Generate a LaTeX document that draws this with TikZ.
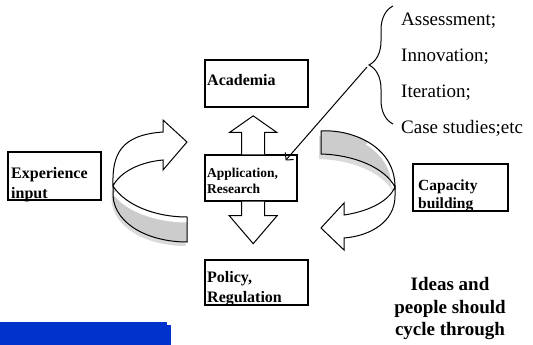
\documentclass[tikz,border=0pt]{standalone}
\usepackage{fontspec}
\setmainfont{Liberation Serif}
\usetikzlibrary{positioning, arrows.meta, calc, decorations.pathreplacing}

\definecolor{bandgray}{RGB}{204,204,204}
\definecolor{shadowgray}{RGB}{218,218,218}
\definecolor{barblue}{RGB}{0,51,204}

\begin{document}
\begin{tikzpicture}[
    x=1pt, y=-1pt,
    box/.style={rectangle, draw, line width=1.3pt, inner sep=0pt},
    boxtext/.style={anchor=west, align=left, inner sep=0pt, font=\fontsize{16}{20}\selectfont\bfseries},
    blockarrow/.style={draw, fill=white, line width=1pt, line join=miter},
    cyclearrow/.style={draw, fill=white, line width=1pt, line join=miter},
    arrow/.style={line width=1pt, -{Straight Barb[length=5pt, width=11pt]}}
  ]
  \useasboundingbox (0,0) rectangle (533,345);

  % Boxes
  \node[box, minimum width=103pt, minimum height=47pt] (acad) at (256.5,83.5) {};
  \node[box, minimum width=92pt, minimum height=46pt] (app) at (251,178) {};
  \node[box, minimum width=103pt, minimum height=45pt] (pol) at (256.5,282.5) {};
  \node[box, minimum width=93pt, minimum height=48pt] (exp) at (54.5,176) {};
  \node[box, minimum width=95pt, minimum height=47pt] (cap) at (460.5,187.5) {};

  % Box texts
  \node[boxtext] (acadtxt) at (207,80) {Academia};
  \node[boxtext, font=\fontsize{13.5}{16}\selectfont\bfseries] (apptxt) at (207,180.5) {Application,\\Research};
  \node[boxtext] (poltxt) at (207,288.5) {Policy,\\Regulation};
  \node[boxtext] (exptxt) at (11,184.5) {Experience\\input};
  \node[boxtext, font=\fontsize{15.5}{18}\selectfont\bfseries] (captxt) at (418,195.5) {Capacity\\building};

  % List and note
  \node[anchor=north west, align=left, inner sep=0pt, font=\fontsize{19}{36}\selectfont] (items) at (401,13) {Assessment;\\Innovation;\\Iteration;\\Case studies;etc};
  \node[align=center, inner sep=0pt, font=\fontsize{19}{22.5}\selectfont\bfseries] (ideas) at (450,309) {Ideas and\\people should\\cycle through};

  % Brace and pointer
  \draw[line width=1pt, decorate, decoration={brace, amplitude=24pt}] (393,124) -- (393,6);
  \coordinate (bracetip) at (367,67);
  \draw[arrow] (bracetip) -- ($(app.north east)+(-12,6)$);

  % Up and down block arrows
  \draw[blockarrow] ($(app.north)+(-9.3,0)$) -- ++(0,-22) -- ++(-12,0) -- ++(23.5,-16.5) -- ++(23.5,16.5) -- ++(-12,0) -- ++(0,22);
  \draw[blockarrow] ($(app.south)+(-9.3,0)$) -- ++(0,14) -- ++(-12.5,0) -- ++(24,28) -- ++(24,-28) -- ++(-12.5,0) -- ++(0,-14);

  % Left cycle arrow
  \fill[shadowgray, shift={(-1.5,4)}] (113,186) -- (113,196) .. controls (115,225) and (150,242) .. (187,242) -- (187,217) .. controls (155,217) and (125,205) .. (113,186) -- cycle;
  \fill[bandgray] (113,186) -- (113,196) .. controls (115,225) and (150,242) .. (187,242) -- (187,217) .. controls (155,217) and (125,205) .. (113,186) -- cycle;
  \draw[white, line width=5pt, shift={(0,3)}] (187,217) .. controls (155,217) and (125,205) .. (115,189);
  \draw[line width=1pt] (113,186) -- (113,196) .. controls (115,225) and (150,242) .. (187,242) -- (187,217) .. controls (155,217) and (125,205) .. (113,186) -- cycle;
  \draw[cyclearrow] (113,186) .. controls (112,155) and (120,135) .. (163,132) -- (163,120) -- (187,142) -- (163,170) -- (163,160) .. controls (140,162) and (120,172) .. (113,186) -- cycle;

  % Right cycle arrow
  \fill[shadowgray, shift={(-2,5)}] (321,131) .. controls (350,129) and (395,145) .. (395,187) .. controls (385,168) and (355,155) .. (321,154) -- cycle;
  \fill[bandgray] (321,131) .. controls (350,129) and (395,145) .. (395,187) .. controls (385,168) and (355,155) .. (321,154) -- cycle;
  \draw[white, line width=3pt, shift={(-2,1)}] (368.9,142.5) .. controls (383.75,151.5) and (395,166) .. (395,187);
  \draw[line width=1pt] (321,131) .. controls (350,129) and (395,145) .. (395,187) .. controls (385,168) and (355,155) .. (321,154) -- cycle;
  \draw[cyclearrow] (395,187) -- (395,196) .. controls (395,222) and (370,236) .. (344,238) -- (344,250) -- (321,228) -- (344,203) -- (344,215) .. controls (365,212) and (388,203) .. (395,187) -- cycle;

  % Bar
  \fill[barblue] (0,322) rectangle (167,345);
  \fill[barblue] (167,325) rectangle (171,345);
\end{tikzpicture}
\end{document}
